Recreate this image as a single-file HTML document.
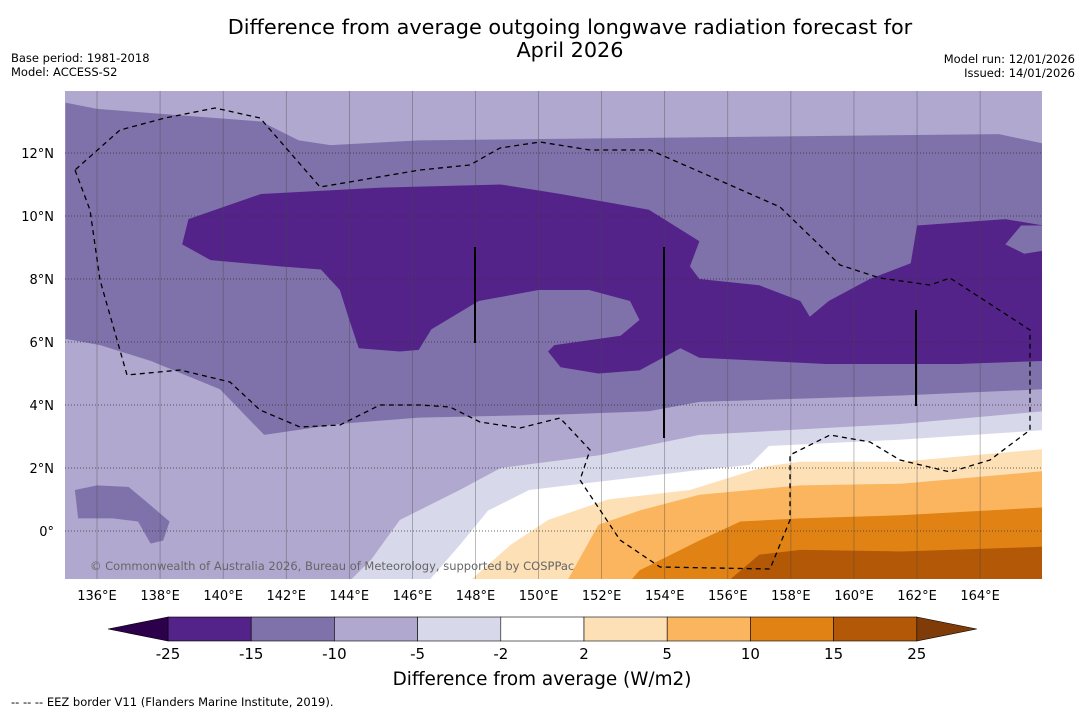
<!DOCTYPE html>
<html><head><meta charset="utf-8">
<style>
body{margin:0;background:#fff;width:1085px;height:713px;overflow:hidden;font-family:"Liberation Sans","DejaVu Sans",sans-serif;}
</style></head>
<body>
<svg id="chart" width="1085" height="713" xmlns="http://www.w3.org/2000/svg" font-family="DejaVu Sans, Liberation Sans, sans-serif">
<text x="570" y="34" text-anchor="middle" font-size="20.8">Difference from average outgoing longwave radiation forecast for</text>
<text x="570" y="57" text-anchor="middle" font-size="20.8">April 2026</text>
<text x="11" y="62" font-size="11.5">Base period: 1981-2018</text>
<text x="11" y="76" font-size="11.5">Model: ACCESS-S2</text>
<text x="1075" y="63" font-size="11.5" text-anchor="end">Model run: 12/01/2026</text>
<text x="1075" y="77" font-size="11.5" text-anchor="end">Issued: 14/01/2026</text>
<defs><clipPath id="mapclip"><rect x="65" y="91" width="977" height="488"/></clipPath></defs>
<g id="map" clip-path="url(#mapclip)"></g>
<g id="axes"></g>
<g id="cbar"></g>
<text x="90" y="570" font-size="11.5" fill="#666">© Commonwealth of Australia 2026, Bureau of Meteorology, supported by COSPPac</text>
<text x="542" y="685" text-anchor="middle" font-size="18.4">Difference from average (W/m2)</text>
<text x="11" y="706" font-size="11.5">--  --  -- EEZ border V11 (Flanders Marine Institute, 2019).</text>
</svg>
<script>
const lonTicks=[136,138,140,142,144,146,148,150,152,154,156,158,160,162,164];
const latTicks=[12,10,8,6,4,2,0];
const cbLevels=["-25","-15","-10","-5","-2","2","5","10","15","25"];
const cbColors=["#54238a","#7f72aa","#b1a8d0","#d8d8eb","#ffffff","#fde0b6","#fbb55e","#e08214","#b35806"];
const cbExtendLow="#2d004b", cbExtendHigh="#7f3b08";
const bandMedium=[[135,13.6],[136,13.4],[141.2,13.0],[142.4,12.4],[143.4,12.25],[146.2,12.4],[164.6,12.6],[166,12.3],[166,4.5],[161.5,4.3],[155.1,4.1],[153.5,3.8],[150.7,3.7],[146.2,3.6],[143.7,3.4],[141.3,3.05],[139.9,4.5],[137.7,5.4],[136.1,5.9],[135,6.1]];
const patchMedium=[[135.3,1.3],[136,1.45],[137,1.4],[137.6,0.9],[138.3,0.3],[138.1,-0.3],[137.7,-0.4],[137.3,0.3],[136.5,0.4],[135.4,0.4]];
const bandDark=[[138.7,9.1],[138.9,9.9],[141.2,10.7],[145,10.9],[148.8,11.0],[150.7,10.7],[153.5,10.2],[155.1,9.2],[154.8,8.4],[155.1,8.0],[157,7.8],[158.3,7.3],[158.6,6.8],[159.2,7.3],[160.5,8.0],[161.8,8.5],[162,9.7],[164.8,9.9],[166,9.7],[166,5.4],[163.3,5.3],[159.1,5.3],[155.1,5.5],[154.5,5.8],[153.2,5.1],[151.9,5.0],[150.7,5.2],[150.3,5.7],[150.5,5.9],[152.6,6.2],[153.2,6.7],[152.9,7.3],[151.6,7.65],[150,7.65],[148.1,7.3],[146.6,6.4],[146.2,5.75],[145.6,5.7],[144.3,5.8],[144,6.7],[143.7,7.65],[143.1,8.3],[141.8,8.4],[139.6,8.6]];
const patchMedium2=[[164.8,9.1],[165.3,9.7],[166,9.7],[166,8.9],[165.4,8.8]];
const bandLight=[[166,3.8],[161.5,3.4],[155.1,3.05],[151.9,2.4],[148.8,2.0],[147.5,1.3],[145.6,0.35],[144.7,-0.9],[144,-1.6],[166,-1.6]];
const bandWhite=[[166,3.2],[161.5,2.9],[157.3,2.7],[156.7,2.1],[154.8,1.9],[152.2,1.6],[149.7,1.3],[148.4,0.65],[147.5,-0.45],[146.5,-1.6],[166,-1.6]];
const bandPale=[[166,2.6],[161.5,2.2],[158.3,2.2],[157.2,2.05],[154.8,1.3],[152.2,1.0],[150.3,0.35],[149.1,-0.45],[147.8,-1.6],[166,-1.6]];
const bandOrange=[[166,1.9],[161.5,1.5],[158.3,1.45],[155.1,1.15],[153.2,0.65],[151.9,0.2],[150.9,-1.6],[166,-1.6]];
const bandDarkOrange=[[166,0.75],[161.5,0.5],[158.3,0.4],[156.4,0.3],[155.1,-0.3],[153.2,-1.25],[152.9,-1.6],[166,-1.6]];
const bandBrown=[[166,-0.5],[161.5,-0.65],[158.3,-0.6],[157,-0.75],[156,-1.6],[166,-1.6]];
const eez=[[75,170],[90,210],[100,280],[127,375],[180,370],[230,382],[260,410],[300,427],[340,425],[380,405],[420,405],[450,407],[480,422],[520,428],[560,418],[590,450],[580,480],[620,540],[660,567],[770,569],[790,520],[790,455],[830,435],[870,442],[900,460],[950,472],[990,460],[1030,430],[1030,330],[950,278],[930,285],[880,278],[840,265],[780,207],[730,185],[650,150],[590,150],[540,142],[500,148],[470,165],[420,170],[320,187],[260,118],[215,108],[165,118],[120,130],[75,170]];
const NS="http://www.w3.org/2000/svg";
const X=lon=>97+(lon-136)*31.54, Y=lat=>531-lat*31.5;
const map=document.getElementById('map'),axes=document.getElementById('axes'),cb=document.getElementById('cbar');
function mk(t,a,p){const e=document.createElementNS(NS,t);for(const k in a)e.setAttribute(k,a[k]);p.appendChild(e);return e;}
const bg=mk('rect',{x:65,y:91,width:977,height:488,fill:"#b1a8d0"},map);


const layers=[[bandMedium,"#7f72aa","band-minus10"],[patchMedium,"#7f72aa","patch-minus10"],[bandDark,"#54238a","band-minus15"],[patchMedium2,"#7f72aa","patch-minus10-east"],[bandLight,"#d8d8eb","band-minus5"],[bandWhite,"#ffffff","band-minus2"],[bandPale,"#fde0b6","band-plus2"],[bandOrange,"#fbb55e","band-plus5"],[bandDarkOrange,"#e08214","band-plus10"],[bandBrown,"#b35806","band-plus15"]];
layers.forEach(([pts,c,n])=>{
 const p=mk('polygon',{points:pts.map(q=>X(q[0])+","+Y(q[1])).join(" "),fill:c},map);
 
 
});
lonTicks.forEach(l=>{
 const g=mk('line',{x1:X(l),x2:X(l),y1:91,y2:579,stroke:"#444","stroke-width":0.6,"stroke-opacity":0.6},map);
 
 
 const t=mk('text',{x:X(l),y:600,"text-anchor":"middle","font-size":13},axes);t.textContent=l+"°E";
 
 
});
latTicks.forEach(l=>{
 const g=mk('line',{x1:65,x2:1042,y1:Y(l),y2:Y(l),stroke:"#333","stroke-width":0.8,"stroke-dasharray":"1,2"},map);
 
 
 const t=mk('text',{x:54,y:Y(l)+5,"text-anchor":"end","font-size":13},axes);t.textContent=l+(l===0?"°":"°N");
 
 
});
const e=mk('polyline',{points:eez.map(q=>q.join(",")).join(" "),fill:"none",stroke:"#000","stroke-width":1.3,"stroke-dasharray":"5,4"},map);


[[475,247,343],[664,247,438],[916,310,406]].forEach(v=>{
 const l=mk('line',{x1:v[0],x2:v[0],y1:v[1],y2:v[2],stroke:"#000","stroke-width":2},map);
 
 
});
const cx0=168,cw=83.2,cy=617,ch=24;
cbColors.forEach((c,i)=>{
 const r=mk('rect',{x:cx0+i*cw,y:cy,width:cw,height:ch,fill:c,stroke:"#000","stroke-width":0.6},cb);
 
 
});
const lo=mk('polygon',{points:`${cx0},${cy} ${cx0-60},${cy+ch/2} ${cx0},${cy+ch}`,fill:cbExtendLow,stroke:"#000","stroke-width":0.6},cb);


const xe=cx0+cbColors.length*cw;
const hi=mk('polygon',{points:`${xe},${cy} ${xe+60},${cy+ch/2} ${xe},${cy+ch}`,fill:cbExtendHigh,stroke:"#000","stroke-width":0.6},cb);


cbLevels.forEach((s,i)=>{
 const t=mk('text',{x:cx0+i*cw,y:659,"text-anchor":"middle","font-size":15},cb);t.textContent=s;
 
 
});
</script>
</body></html>
